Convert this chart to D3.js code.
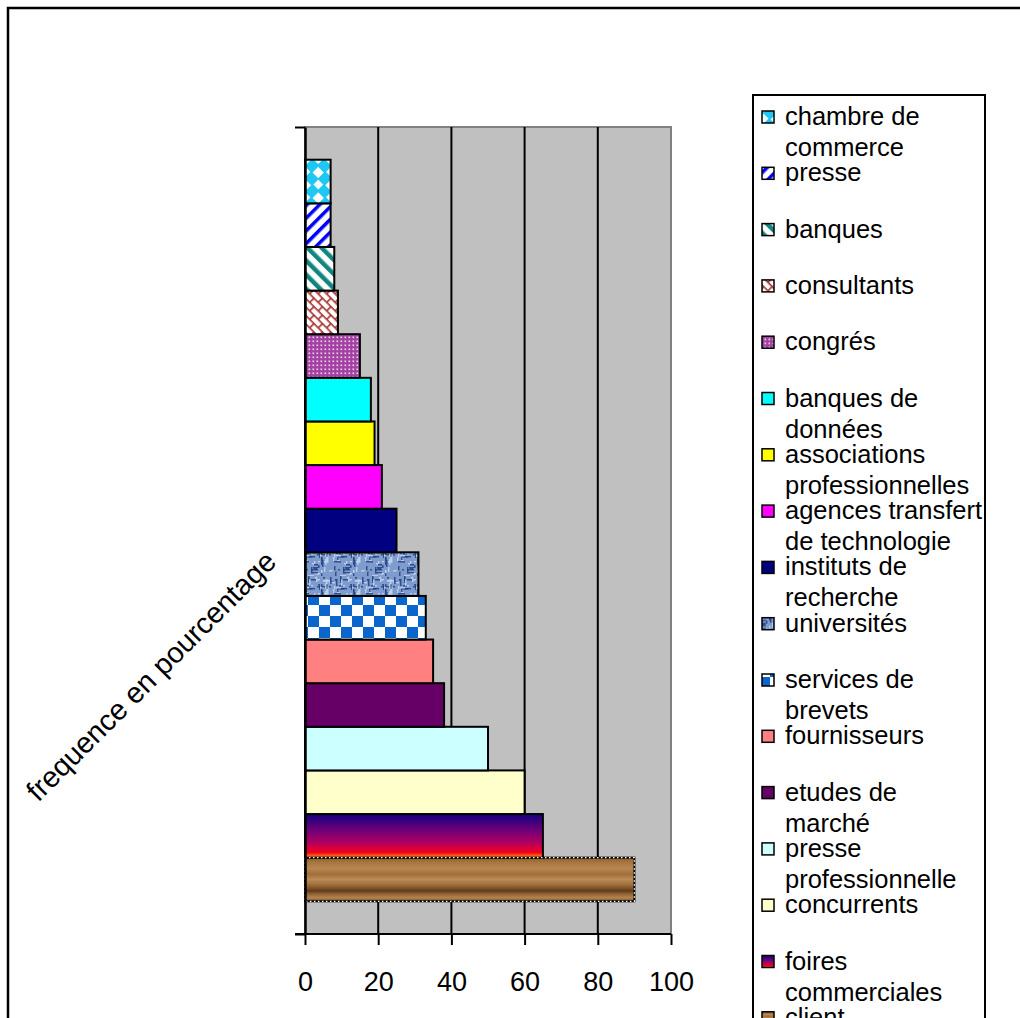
<!DOCTYPE html>
<html>
<head>
<meta charset="utf-8">
<script src="https://cdn.jsdelivr.net/npm/d3@7"></script>
<style>
  body { margin: 0; background: #fff; }
  svg { display: block; }
  text { font-family: "Liberation Sans", Arial, sans-serif; fill: #000; }
</style>
</head>
<body>
<svg id="chart" width="1020" height="1018"></svg>
<script>
// Information sources, listed from the bottom bar to the top bar
const sources = [
  "client", "foires commerciales", "concurrents", "presse professionnelle",
  "etudes de marché", "fournisseurs", "services de brevets", "universités",
  "instituts de recherche", "agences transfert de technologie",
  "associations professionnelles", "banques de données", "congrés",
  "consultants", "banques", "presse", "chambre de commerce"
];
// Frequency (%) for each source, same order
const values = [90, 65, 60, 50, 38, 35, 33, 31, 25, 21, 19, 18, 15, 9, 8, 7, 7];
// Legend wording, broken over lines, same order
const legendLabels = [
  ["client"], ["foires", "commerciales"], ["concurrents"], ["presse", "professionnelle"],
  ["etudes de", "marché"], ["fournisseurs"], ["services de", "brevets"], ["universités"],
  ["instituts de", "recherche"], ["agences transfert", "de technologie"],
  ["associations", "professionnelles"], ["banques de", "données"], ["congrés"],
  ["consultants"], ["banques"], ["presse"], ["chambre de", "commerce"]
];
const xTickValues = [0, 20, 40, 60, 80, 100];
const axisTitle = "frequence en pourcentage";

const svg = d3.select("#chart");
const defs = svg.append("defs");

function pattern(id, w, h, transform) {
  const p = defs.append("pattern").attr("id", id)
    .attr("patternUnits", "userSpaceOnUse").attr("width", w).attr("height", h);
  if (transform) p.attr("patternTransform", transform);
  return p;
}

// chambre de commerce: cyan / white diamonds
{
  const p = pattern("f-chambre", 18, 18, "rotate(45)");
  p.append("rect").attr("width", 18).attr("height", 18).attr("fill", "#1ec8f2");
  p.append("rect").attr("x", 1).attr("y", 1).attr("width", 8).attr("height", 8).attr("fill", "#fff");
  p.append("rect").attr("x", 10).attr("y", 10).attr("width", 7).attr("height", 7).attr("fill", "#f4fcff");
}
// presse: blue rising stripes
{
  const p = pattern("f-presse", 9, 9, "rotate(45)");
  p.append("rect").attr("width", 9).attr("height", 9).attr("fill", "#fff");
  p.append("rect").attr("width", 3.5).attr("height", 9).attr("fill", "#0000ff");
}
// banques: teal falling stripes
{
  const p = pattern("f-banques", 10, 10, "rotate(-45)");
  p.append("rect").attr("width", 10).attr("height", 10).attr("fill", "#fff");
  p.append("rect").attr("width", 4.5).attr("height", 10).attr("fill", "#11857f");
}
// consultants: diagonal red brick
{
  const p = pattern("f-consultants", 12, 12, "rotate(45)");
  p.append("rect").attr("width", 12).attr("height", 12).attr("fill", "#fff");
  const c = "#a8302e";
  p.append("rect").attr("width", 12).attr("height", 1.6).attr("fill", c);
  p.append("rect").attr("y", 6).attr("width", 12).attr("height", 1.6).attr("fill", c);
  p.append("rect").attr("x", 0).attr("width", 1.6).attr("height", 6).attr("fill", c);
  p.append("rect").attr("x", 6).attr("y", 6).attr("width", 1.6).attr("height", 6).attr("fill", c);
}
// congrés: purple with fine white dots
{
  const p = pattern("f-congres", 4, 4);
  p.append("rect").attr("width", 4).attr("height", 4).attr("fill", "#a442a4");
  p.append("rect").attr("x", 0.5).attr("y", 0.5).attr("width", 1.6).attr("height", 1.6).attr("fill", "#f0d8f0");
}
// universités: blue denim-like weave
{
  const p = pattern("f-univ", 32, 32);
  p.append("rect").attr("width", 32).attr("height", 32).attr("fill", "#7f9ccf");
  const hash = i => { const s = Math.sin(i * 127.1 + 311.7) * 43758.5453; return s - Math.floor(s); };
  for (let i = 0; i < 70; i++) {
    const vx = Math.floor(hash(i) * 32), vy = Math.floor(hash(i + 100) * 32);
    const horiz = hash(i + 200) > 0.5;
    const len = 2 + Math.floor(hash(i + 300) * 6);
    const dark = hash(i + 400) > 0.45;
    p.append("rect").attr("x", vx).attr("y", vy)
      .attr("width", horiz ? len : 1.5).attr("height", horiz ? 1.5 : len)
      .attr("fill", dark ? "#23437f" : "#c4d2ee").attr("opacity", 0.85);
  }
}
// services de brevets: blue / white checks
{
  const p = pattern("f-brevets", 22, 22);
  p.append("rect").attr("width", 22).attr("height", 22).attr("fill", "#fff");
  p.append("rect").attr("x", 0).attr("y", 0).attr("width", 11).attr("height", 11).attr("fill", "#0a66cc");
  p.append("rect").attr("x", 11).attr("y", 11).attr("width", 11).attr("height", 11).attr("fill", "#0a66cc");
}
// foires commerciales: navy to red gradient
{
  const g = defs.append("linearGradient").attr("id", "f-foires")
    .attr("x1", 0).attr("y1", 0).attr("x2", 0).attr("y2", 1);
  [[0, "#14007e"], [0.35, "#6a007a"], [0.65, "#b00060"], [0.88, "#f20020"], [1, "#ff9a00"]]
    .forEach(([o, c]) => g.append("stop").attr("offset", o).attr("stop-color", c));
}
// client: wood grain
{
  const g = defs.append("linearGradient").attr("id", "f-client")
    .attr("x1", 0).attr("y1", 0).attr("x2", 0).attr("y2", 1);
  [[0, "#8a5a2c"], [0.1, "#a6753f"], [0.25, "#b68752"], [0.38, "#a26e3a"], [0.5, "#b98b56"],
   [0.6, "#a5743f"], [0.68, "#8a5a2e"], [0.76, "#603b19"], [0.84, "#96663a"], [0.92, "#b48450"], [1, "#7b4f27"]]
    .forEach(([o, c]) => g.append("stop").attr("offset", o).attr("stop-color", c));
}

const fills = [
  "url(#f-client)", "url(#f-foires)", "#ffffcc", "#ccffff", "#660066", "#ff8080",
  "url(#f-brevets)", "url(#f-univ)", "#000080", "#ff00ff", "#ffff00", "#00ffff",
  "url(#f-congres)", "url(#f-consultants)", "url(#f-banques)", "url(#f-presse)", "url(#f-chambre)"
];

// outer chart frame
svg.append("rect").attr("x", 8).attr("y", 8).attr("width", 1040).attr("height", 1040)
  .attr("fill", "#fff").attr("stroke", "#000").attr("stroke-width", 2.5);

const plot = { left: 305, right: 671, top: 127, bottom: 934 };
const x = d3.scaleLinear().domain([0, 100]).range([plot.left, plot.right]);
const y = d3.scaleBand().domain(sources).range([plot.bottom, plot.top])
  .paddingInner(0).paddingOuter(0.75);

// plot background
svg.append("rect").attr("x", plot.left).attr("y", plot.top)
  .attr("width", plot.right - plot.left).attr("height", plot.bottom - plot.top)
  .attr("fill", "#c0c0c0").attr("stroke", "#808080").attr("stroke-width", 2);

// vertical gridlines
svg.append("g").selectAll("line")
  .data(xTickValues.filter(v => v > 0 && v < 100)).join("line")
  .attr("x1", d => x(d)).attr("x2", d => x(d))
  .attr("y1", plot.top).attr("y2", plot.bottom)
  .attr("stroke", "#000").attr("stroke-width", 2);

// bars
svg.append("g").selectAll("rect")
  .data(sources).join("rect")
  .attr("x", x(0)).attr("y", d => y(d))
  .attr("width", (d, i) => x(values[i]) - x(0))
  .attr("height", y.bandwidth())
  .attr("fill", (d, i) => fills[i])
  .attr("stroke", "#000").attr("stroke-width", 2);

// dotted outline around the client bar
svg.append("rect")
  .attr("x", x(0)).attr("y", y(sources[0]))
  .attr("width", x(values[0]) - x(0)).attr("height", y.bandwidth())
  .attr("fill", "none").attr("stroke", "#fff").attr("stroke-width", 1.2)
  .attr("stroke-dasharray", "1.5,2.5");

// x axis
const xAxis = svg.append("g").attr("transform", `translate(0,${plot.bottom})`)
  .call(d3.axisBottom(x).tickValues(xTickValues).tickSize(11).tickSizeOuter(0).tickPadding(27));
xAxis.select(".domain").remove();
xAxis.append("line").attr("x1", plot.left - 10).attr("x2", plot.right)
  .attr("stroke", "#000").attr("stroke-width", 2);
xAxis.selectAll(".tick line").attr("stroke", "#000").attr("stroke-width", 2);
xAxis.selectAll(".tick text").attr("font-size", 27)
  .attr("font-family", "'Liberation Sans', Arial, sans-serif").attr("fill", "#000");

// category axis: only the two boundary ticks
const yEdge = d3.scaleLinear().domain([0, 1]).range([plot.bottom, plot.top]);
const yAxis = svg.append("g").attr("transform", `translate(${plot.left},0)`)
  .call(d3.axisLeft(yEdge).tickValues([0, 1]).tickFormat("").tickSize(10).tickSizeOuter(0));
yAxis.select(".domain").attr("stroke", "#000").attr("stroke-width", 2.5);
yAxis.selectAll(".tick line").attr("stroke", "#000").attr("stroke-width", 2);

// axis title
svg.append("text")
  .attr("transform", "translate(151,676) rotate(-45)")
  .attr("text-anchor", "middle").attr("dominant-baseline", "central")
  .attr("font-size", 29).text(axisTitle);

// legend
const legend = svg.append("g");
legend.append("rect").attr("x", 753).attr("y", 95).attr("width", 232).attr("height", 1000)
  .attr("fill", "#fff").attr("stroke", "#000").attr("stroke-width", 2);

const order = d3.range(sources.length).reverse();
const entry = legend.selectAll("g.entry").data(order).join("g").attr("class", "entry")
  .attr("transform", (d, k) => `translate(0,${125 + k * 56.3})`);
entry.append("rect").attr("x", 762).attr("y", -14).attr("width", 12).attr("height", 12)
  .attr("fill", d => fills[d]).attr("stroke", "#000").attr("stroke-width", 1.5);
entry.append("text").attr("x", 785).attr("font-size", 25.5)
  .selectAll("tspan").data(d => legendLabels[d]).join("tspan")
  .attr("x", 785).attr("y", (t, j) => j * 31).text(t => t);
</script>
</body>
</html>
